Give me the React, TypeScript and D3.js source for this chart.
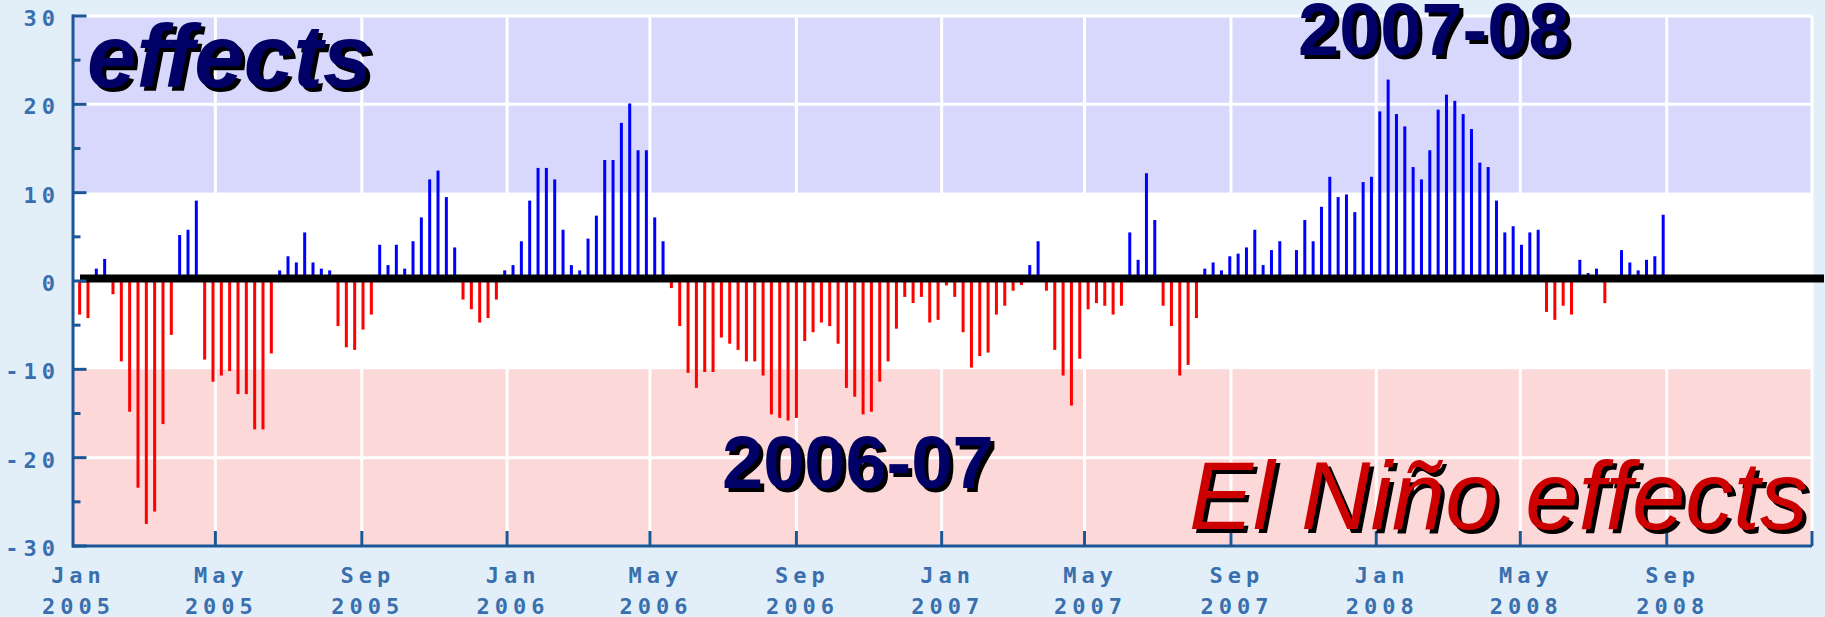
import * as d3 from 'd3'
import { useEffect, useRef } from 'react'

const width = 1825, height = 617
const margin = { top: 16, right: 13, bottom: 71, left: 72.5 }

// weekly index values, first week ending Fri 7 Jan 2005
const firstWeek = new Date(2005, 0, 7)
const soi = [
  -3.8, -4.2, 1.4, 2.5, -1.5, -9.1, -14.8, -23.4, -27.5, -26.1, -16.2, -6.1,
  5.2, 5.8, 9.1, -8.9, -11.4, -10.7, -10.2, -12.8, -12.8, -16.8, -16.8, -8.2,
  1.2, 2.8, 2.1, 5.5, 2.1, 1.4, 1.2, -5.1, -7.5, -7.8, -5.5, -3.8, 4.1,
  1.8, 4.1, 1.4, 4.5, 7.2, 11.5, 12.5, 9.5, 3.8, -2.1, -3.2, -4.7, -4.2, -2.1,
  1.2, 1.8, 4.5, 9.1, 12.8, 12.8, 11.5, 5.8, 1.8, 1.2, 4.8, 7.4, 13.7, 13.7,
  17.9, 20.1, 14.8, 14.8, 7.2, 4.5, -0.8, -5.1, -10.4,
  -12.1, -10.3, -10.3, -6.4, -7.1, -7.8, -9.1, -9.1, -10.7, -15.1, -15.5, -15.8,
  -15.5, -6.8, -5.8, -4.7, -5.1, -7.1, -12.1, -13.1, -15.1, -14.8, -11.4, -9.1,
  -5.4, -1.8, -2.5, -1.8, -4.7, -4.4, -0.5, -1.8, -5.8, -9.8, -8.5, -8.1, -3.8,
  -2.8, -1.1, -0.45, 1.8, 4.5, -1.1, -7.8, -10.7, -14.1, -8.8, -3.2, -2.5,
  -2.8, -3.8, -2.8, 5.5, 2.4, 12.2, 6.9, -2.8, -5.1, -10.7, -9.5, -4.2,
  1.4, 2.1, 1.2, 2.8, 3.1, 3.8, 5.8, 1.8, 3.5, 4.5, 0, 3.5, 6.9,
  4.5, 8.4, 11.8, 9.5, 9.8, 7.8, 11.2, 11.8, 19.2, 22.8, 18.9, 17.5, 12.9,
  11.5, 14.8, 19.4, 21.1, 20.4, 18.9, 17.2, 13.4, 12.9, 9.1, 5.5, 6.2, 4.1,
  5.5, 5.8, -3.5, -4.4, -2.8, -3.8, 2.4, 0.9, 1.4, -2.5, 0, 3.5, 2.1, 1.2,
  2.4, 2.8, 7.5,
]

const yLabels = [30, 20, 10, 0, -10, -20, -30]
const yMinor = [25, 15, 5, -5, -15, -25]
const bands = [
  { from: 30, to: 10, fill: '#d8d8fc' },
  { from: 10, to: -10, fill: '#ffffff' },
  { from: -10, to: -30, fill: '#fdd8d8' },
]
const whiteLines = [30, 20, -20]

const notes = [
  { text: 'effects', x: 87, y: 87, size: 89, weight: 'bold', anchor: 'start', fill: '#000066' },
  { text: '2007-08', x: 1298, y: 55, size: 74, weight: 'bold', anchor: 'start', fill: '#000066', upright: true },
  { text: '2006-07', x: 722, y: 488, size: 74, weight: 'bold', anchor: 'start', fill: '#000066', upright: true },
  { text: 'El Niño effects', x: 1808, y: 529, size: 96, weight: 'normal', anchor: 'end', fill: '#cc0000' },
]

const axisColor = '#1b5797'
const labelColor = '#3a6fae'

const chart = (node) => {
  const svg = d3.select(node)
  svg.selectAll('*').remove()

  const x = d3.scaleTime()
    .domain([new Date(2005, 0, 1), new Date(2009, 0, 1)])
    .range([margin.left, width - margin.right])
  const y = d3.scaleLinear()
    .domain([-30, 30])
    .range([height - margin.bottom, margin.top])

  const data = soi.map((v, i) => ({ date: d3.timeDay.offset(firstWeek, 7 * i), value: v }))
  const months = x.ticks(d3.timeMonth.every(4))

  svg.append('rect')
    .attr('width', width).attr('height', height)
    .attr('fill', '#e2eff9')

  svg.append('g')
    .selectAll('rect')
    .data(bands)
    .join('rect')
      .attr('x', margin.left)
      .attr('y', d => y(d.from))
      .attr('width', width - margin.right - margin.left)
      .attr('height', d => y(d.to) - y(d.from))
      .attr('fill', d => d.fill)

  // white grid
  const grid = svg.append('g').attr('stroke', '#fff').attr('stroke-width', 3)
  grid.selectAll('.h')
    .data(whiteLines)
    .join('line')
      .attr('x1', margin.left).attr('x2', width - margin.right)
      .attr('y1', d => y(d)).attr('y2', d => y(d))
  grid.selectAll('.v')
    .data(months.slice(1))
    .join('line')
      .attr('x1', d => x(d)).attr('x2', d => x(d))
      .attr('y1', y(30)).attr('y2', y(-30))

  svg.append('g')
    .selectAll('rect')
    .data(data)
    .join('rect')
      .attr('x', d => x(d.date) - 1.5)
      .attr('width', 3)
      .attr('y', d => d.value >= 0 ? y(d.value) : y(0))
      .attr('height', d => Math.abs(y(d.value) - y(0)))
      .attr('fill', d => d.value >= 0 ? '#0000ff' : '#ff0000')

  // zero line
  svg.append('rect')
    .attr('x', 80).attr('width', 1744)
    .attr('y', y(0) - 6.5).attr('height', 8)
    .attr('fill', '#000')

  // axes
  const axis = svg.append('g').attr('stroke', axisColor)
  axis.append('line')
    .attr('x1', margin.left + 0.5).attr('x2', margin.left + 0.5)
    .attr('y1', y(30) - 1.5).attr('y2', y(-30) + 1.5)
    .attr('stroke-width', 3)
  axis.append('line')
    .attr('x1', margin.left).attr('x2', width - margin.right)
    .attr('y1', y(-30)).attr('y2', y(-30))
    .attr('stroke-width', 3)
  axis.selectAll('.major')
    .data(yLabels)
    .join('line')
      .attr('x1', margin.left).attr('x2', margin.left + 14)
      .attr('y1', d => y(d)).attr('y2', d => y(d))
      .attr('stroke-width', 3)
  axis.selectAll('.minor')
    .data(yMinor)
    .join('line')
      .attr('x1', margin.left).attr('x2', margin.left + 8)
      .attr('y1', d => y(d)).attr('y2', d => y(d))
      .attr('stroke-width', 3)
  axis.selectAll('.xt')
    .data(months.slice(1))
    .join('line')
      .attr('x1', d => x(d)).attr('x2', d => x(d))
      .attr('y1', y(-30)).attr('y2', y(-30) - 15)
      .attr('stroke-width', 3)

  const tickFont = g => g
    .attr('font-family', '"DejaVu Sans Mono", monospace')
    .attr('font-size', 22)
    .attr('font-weight', 'bold')
    .attr('letter-spacing', 5)
    .attr('fill', labelColor)

  svg.append('g')
    .call(tickFont)
    .attr('text-anchor', 'end')
  .selectAll('text')
  .data(yLabels)
  .join('text')
    .attr('x', 60)
    .attr('y', d => y(d) + 10)
    .text(d => d)

  const xl = svg.append('g')
    .call(tickFont)
    .attr('text-anchor', 'middle')
  .selectAll('text')
  .data(months.filter(d => d < new Date(2009, 0, 1)))
  .join('text')
  xl.append('tspan')
    .attr('x', d => x(d) + 6)
    .attr('y', 583)
    .text(d => d3.timeFormat('%b')(d))
  xl.append('tspan')
    .attr('x', d => x(d) + 6)
    .attr('y', 614)
    .text(d => d3.timeFormat('%Y')(d))

  // big annotations with drop shadow
  const ann = svg.append('g')
    .attr('font-family', '"Liberation Sans", Arial, sans-serif')
  notes.forEach(n => {
    ;[['#000', 4], [n.fill, 0]].forEach(([c, o]) => {
      ann.append('text')
        .attr('x', n.x + o).attr('y', n.y + o)
        .attr('font-size', n.size)
        .attr('font-weight', n.weight)
        .attr('font-style', n.upright ? 'normal' : 'italic')
        .attr('text-anchor', n.anchor)
        .attr('fill', c)
        .text(n.text)
    })
  })
}

export default function App() {
  const svg = useRef(null)
  useEffect(() => {
    document.body.style.margin = '0'
    if (svg.current) chart(svg.current)
  }, [])
  return <svg ref={svg} width={width} height={height} style={{ display: 'block' }} />
}
